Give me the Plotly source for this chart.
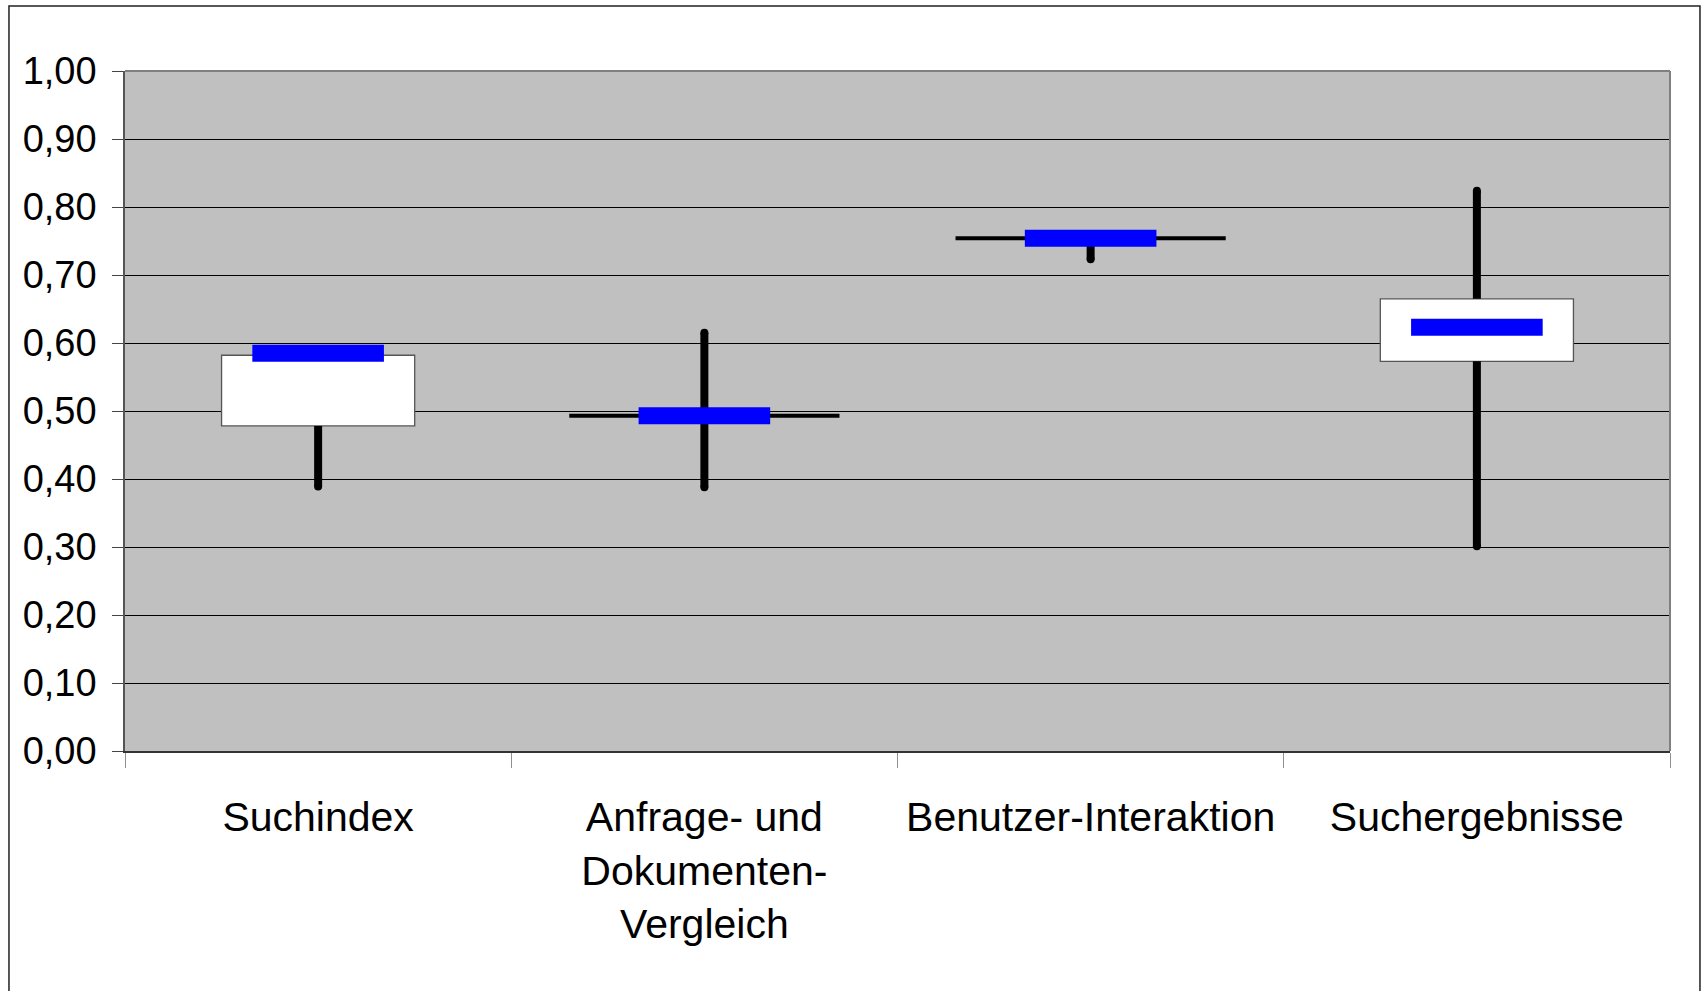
import plotly.graph_objects as go

# ---- data ----
categories = ["Suchindex", "Anfrage- und<br>Dokumenten-<br>Vergleich", "Benutzer-Interaktion", "Suchergebnisse"]
low_vals = [0.389, 0.388, 0.723, 0.301]
high_vals = [0.580, 0.615, 0.760, 0.824]
box_bottom = [0.478, 0.493, 0.754, 0.573]
box_top = [0.582, 0.493, 0.754, 0.665]
marker_vals = [0.585, 0.493, 0.754, 0.623]
y_ticks = [0.0, 0.1, 0.2, 0.3, 0.4, 0.5, 0.6, 0.7, 0.8, 0.9, 1.0]

FONT = "Liberation Sans, Arial, sans-serif"

fig = go.Figure()

# boxes (up-down bars) -- bar layer is drawn beneath the scatter layer
fig.add_trace(go.Bar(x=categories,
                     y=[t - b for t, b in zip(box_top, box_bottom)],
                     base=box_bottom, width=0.5,
                     marker=dict(color="white", line=dict(color="#555555", width=1.3)),
                     hoverinfo="skip", showlegend=False))

# degenerate boxes (open == close) drawn as a flat line
flat_x = [c for c, b, t in zip(categories, box_bottom, box_top) if b == t]
flat_y = [b for b, t in zip(box_bottom, box_top) if b == t]
fig.add_trace(go.Scatter(x=flat_x, y=flat_y, mode="markers",
                         marker=dict(symbol="line-ew", size=193,
                                     line=dict(color="black", width=4)),
                         hoverinfo="skip", showlegend=False))

# high-low lines: only the parts outside the boxes are visible
wx, wy, cx, cy = [], [], [], []
for c, lo, hi, b, t in zip(categories, low_vals, high_vals, box_bottom, box_top):
    if lo < b:
        wx += [c, c, None]
        wy += [lo, b, None]
        cx.append(c)
        cy.append(lo)
    if hi > t:
        wx += [c, c, None]
        wy += [t, hi, None]
        cx.append(c)
        cy.append(hi)
fig.add_trace(go.Scatter(x=wx, y=wy, mode="lines",
                         line=dict(color="black", width=8),
                         hoverinfo="skip", showlegend=False))
# round line ends
fig.add_trace(go.Scatter(x=cx, y=cy, mode="markers",
                         marker=dict(symbol="circle", size=8, color="black",
                                     line=dict(width=0)),
                         hoverinfo="skip", showlegend=False))

# blue dash markers
fig.add_trace(go.Scatter(x=categories, y=marker_vals, mode="markers",
                         marker=dict(symbol="line-ew", size=94,
                                     line=dict(color="#0000FF", width=17)),
                         showlegend=False))

fig.update_layout(
    width=1703, height=991,
    margin=dict(l=125, r=33, t=71, b=240),
    paper_bgcolor="white",
    plot_bgcolor="#C0C0C0",
    separators=",.",
    font=dict(family=FONT, color="black"),
    barmode="overlay",
    showlegend=False,
)

fig.update_xaxes(
    type="category",
    categoryorder="array", categoryarray=categories,
    tickson="boundaries",
    ticks="outside", ticklen=15, tickcolor="#909090", tickwidth=1,
    showline=True, linecolor="#333333", linewidth=2,
    showgrid=False,
    tickangle=0, automargin=False,
    tickfont=dict(size=41, family=FONT, color="black"),
    ticklabelstandoff=29,
)

fig.update_yaxes(
    range=[0, 1],
    tickmode="array", tickvals=y_ticks,
    tickformat=".2f",
    showgrid=True, gridcolor="black", gridwidth=1,
    zeroline=False, automargin=False,
    showline=True, linecolor="#555555", linewidth=1.5,
    ticks="outside", ticklen=11, tickcolor="#444444", tickwidth=1,
    tickfont=dict(size=38, family=FONT, color="black"),
    ticklabelstandoff=8,
)

# plot-area top and right edges (grey)
fig.add_shape(type="line", xref="paper", yref="paper", x0=0, x1=1, y0=1, y1=1,
              line=dict(color="#808080", width=2), layer="above")
fig.add_shape(type="line", xref="paper", yref="paper", x0=1, x1=1, y0=0, y1=1,
              line=dict(color="#808080", width=2), layer="above")

# outer chart border
fig.add_shape(type="rect", xref="paper", yref="paper",
              x0=-0.0751, x1=1.0194, y0=-0.40, y1=1.0956,
              line=dict(color="#222222", width=1.5), layer="below")

fig.write_html("out.html",
               config={"displayModeBar": False},
               post_script="document.body.style.margin='0';document.body.style.overflow='hidden';")
